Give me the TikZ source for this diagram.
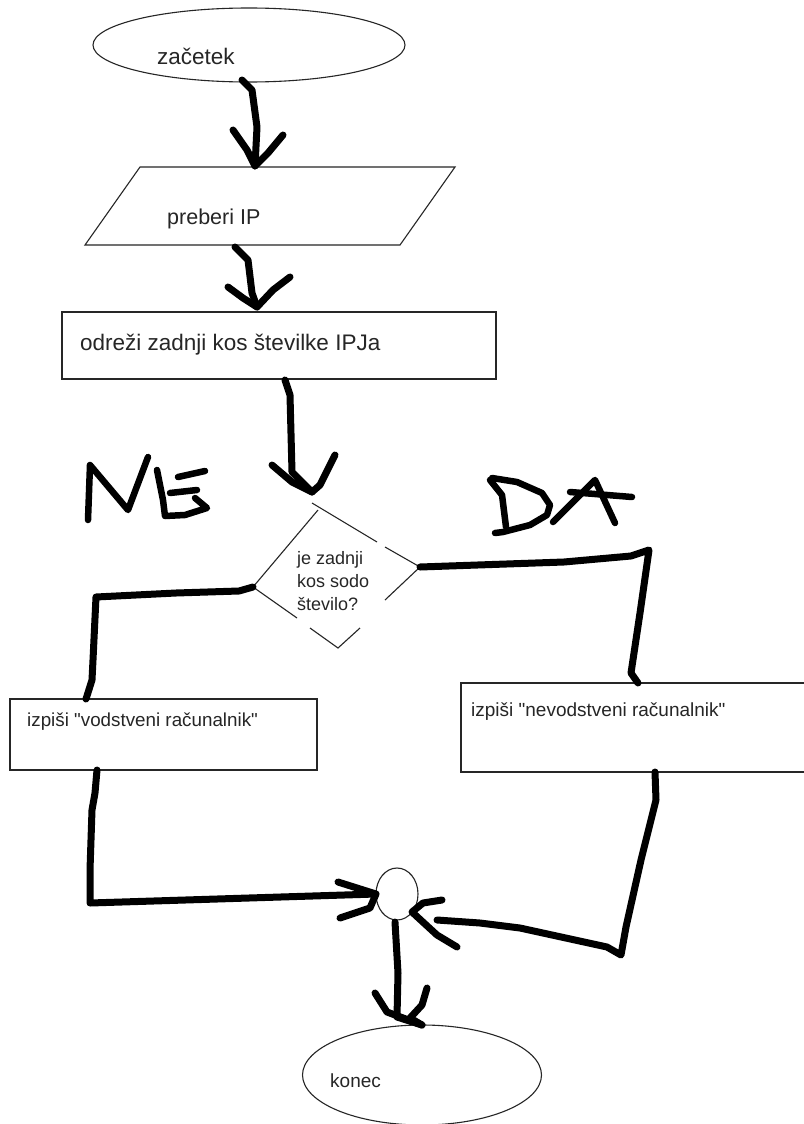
\documentclass[tikz,border=0pt]{standalone}
\usepackage{fontspec}
\setmainfont{Liberation Sans}[Ligatures=TeXOff]
\usetikzlibrary{shapes.geometric,calc}
\begin{document}
\begin{tikzpicture}[x=1pt,y=-1pt,
  outline/.style={draw=black!85, line width=1.1pt, inner sep=0pt, outer sep=0pt},
  brush/.style={draw=black, line width=7pt, line cap=round, line join=round},
  pen/.style={brush, line width=6.5pt},
  label/.style={anchor=west, inner sep=0pt, text=black!85},
  big/.style={font=\fontsize{22.5}{26}\selectfont},
  small/.style={font=\fontsize{18.8}{22}\selectfont},
]
\useasboundingbox (0,0) rectangle (803,1124);
\fill[white] (0,0) rectangle (803,1124);

% ---- shapes ----
\node[outline, ellipse, minimum width=312pt, minimum height=74pt] (start) at (249,45) {};
\node[label, big] (startlbl) at (157,56) {začetek};

% input parallelogram built on an invisible box
\node[inner sep=0pt, outer sep=0pt, minimum width=315pt, minimum height=78pt] (read) at (270,206) {};
\draw[outline] ($(read.south west)+(-27.5,0)$) -- ($(read.north west)+(27.5,0)$)
  -- ($(read.north east)+(27.5,0)$) -- ($(read.south east)+(-27.5,0)$) -- cycle;
\node[label, font=\fontsize{21.5}{26}\selectfont] (readlbl) at (167,219) {preberi IP};

\node[outline, rectangle, minimum width=434pt, minimum height=67pt] (cut) at (279,345.5) {};
\node[label, font=\fontsize{22.5}{26}\selectfont] (cutlbl) at (80,345) {odreži zadnji kos številke IPJa};

% decision diamond, drawn with its broken edges
\coordinate (testT) at (312,503);
\coordinate (testL) at (253,587);
\coordinate (testR) at (420,567);
\coordinate (testB) at (338,648);
\draw[outline] (testT) -- (377,542);
\draw[outline] (385,547) -- (testR);
\draw[outline] (318,510) -- (testL);
\draw[outline] (testL) -- (297,618);
\draw[outline] (310,628) -- (testB) -- (360,628);
\draw[outline] (385,600) -- (testR);
\node[label, align=left, font=\fontsize{18}{23}\selectfont] (test) at (297,581)
  {je zadnji\\kos sodo\\število?};

\node[outline, rectangle, minimum width=307pt, minimum height=71pt] (yes) at (163.5,734.5) {};
\node[label, small] (yeslbl) at (27,722) {izpiši "vodstveni računalnik"};

\node[outline, rectangle, minimum width=360pt, minimum height=89pt] (no) at (641,727.5) {};
\node[label, font=\fontsize{19}{22}\selectfont] (nolbl) at (471,712) {izpiši "nevodstveni računalnik"};

\node[outline, ellipse, minimum width=42pt, minimum height=52pt] (join) at (397,894) {};

\node[outline, ellipse, minimum width=239pt, minimum height=100pt] (stop) at (422,1075) {};
\node[label, font=\fontsize{19}{22}\selectfont] (stoplbl) at (330,1081) {konec};

% ---- hand-drawn connectors ----
% start -> read
\draw[brush] ($(start.south)+(-7,-2)$) -- (252,90) -- (257,127) -- (255,166);
\draw[brush] (233,130) -- (247,150) -- (255,166) -- (268,153) -- (283,135);

% read -> cut
\draw[brush] ($(read.south)+(-35,2)$) -- (248,260) -- (252,293) -- (257,307);
\draw[brush] (228,287) -- (243,298) -- (257,307) -- (273,290) -- (290,277);

% cut -> test
\draw[brush] ($(cut.south)+(6,1)$) -- (290,395) -- (292,472) -- (312,492);
\draw[brush] (272,465) -- (292,482) -- (312,492) -- (320,485) -- (335,455);

% test -> yes (left branch)
\draw[brush] (testL) -- (239,591) -- (176,593) -- (96,597) -- (93,660) -- (92,680) -- ($(yes.north west)+(76,0)$);

% test -> no (right branch)
\draw[brush] (testR) -- (564,562) -- (631,556) -- (649,550) -- (640,613) -- (631,673) -- ($(no.north west)+(177,0)$);

% yes -> join
\draw[brush] ($(yes.south west)+(87,0)$) -- (95,793) -- (92,810) -- (90,870) -- (90,903) -- (join.west);
\draw[brush] (338,882) -- (join.west) -- (370,908) -- (340,918);

% no -> join
\draw[brush] ($(no.south west)+(194,0)$) -- (656,800) -- (651,820) -- (641,860) -- (626,927)
  -- (621,955) -- (607,947) -- (520,928) -- (480,923) -- (437,920);
\draw[brush] (442,900) -- (423,903) -- (412,912) -- (437,935) -- (457,947);

% join -> stop
\draw[brush] ($(join.south)+(-2,2)$) -- (398,973) -- (397,1017) -- (stop.north);
\draw[brush] (375,993) -- (387,1012) -- (stop.north) -- (410,1018) -- (422,1005) -- (427,988);

% ---- hand-written branch labels ----
% NE
\draw[pen] (88,520) -- (90,465) -- (128,510) -- (148,457);
\draw[pen] (157,470) -- (163,500) -- (165,516) -- (185,515) -- (207,508) -- (195,498);
\draw[pen] (170,493) -- (197,490);
\draw[pen] (178,477) -- (205,471);
% DA
\draw[pen] (490,480) -- (502,495) -- (506,527);
\draw[pen] (492,478) -- (517,482) -- (542,493) -- (550,505) -- (547,515) -- (530,525) -- (503,532) -- (495,533);
\draw[pen] (553,522) -- (595,480) -- (615,523);
\draw[pen] (570,492) -- (632,497);
\end{tikzpicture}
\end{document}
